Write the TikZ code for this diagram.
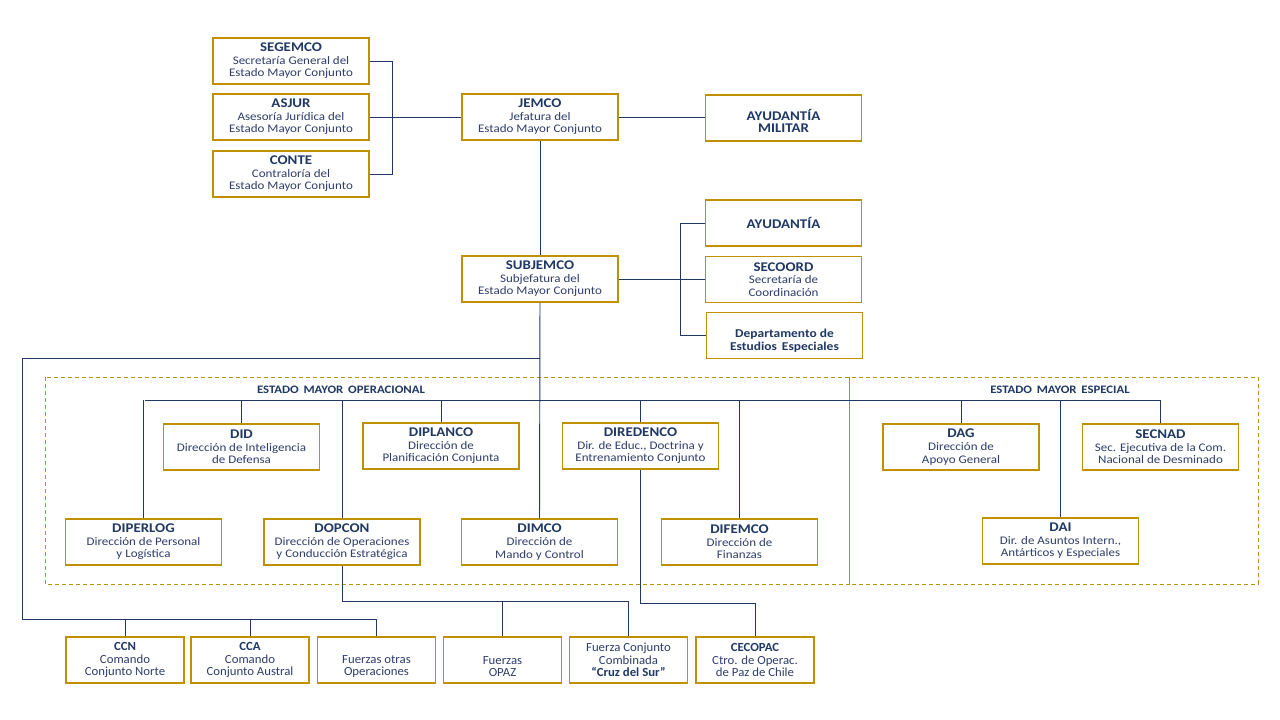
\documentclass[tikz,border=0pt]{standalone}
\usepackage{fontspec}
\setmainfont[FakeStretch=1.12]{Carlito}
\newfontfamily\botf[FakeStretch=1.03]{Carlito}
\usetikzlibrary{calc}
\definecolor{navy}{HTML}{1F3864}
\definecolor{txt}{HTML}{2F3E6B}
\definecolor{gold}{HTML}{BF9000}
\tikzset{
  box/.style={draw=gold, line width=1.1pt, fill=white, inner sep=0pt, align=center,
    text=txt, minimum height=46pt, font=\fontsize{11.6}{12.6}\selectfont},
  w156/.style={minimum width=156pt},
  w119/.style={minimum width=118pt},
  conn/.style={draw=navy, line width=0.95pt},
  grp/.style={draw=gold, line width=0.9pt, dash pattern=on 4pt off 3pt},
  glabel/.style={text=navy, font=\fontsize{11.4}{12}\selectfont\bfseries},
  inlabel/.style={align=center, inner sep=0pt, text=navy},
  bot/.style={box, w119, font=\botf\fontsize{12.4}{12.3}\selectfont}
}
\newcommand{\ttl}[1]{{\fontsize{13.3}{13.5}\selectfont\bfseries\color{navy}#1}}
\begin{document}
\begin{tikzpicture}[x=1pt,y=-1pt]
\useasboundingbox[fill=white] (0,0) rectangle (1280,720);
% group frames
\draw[grp] (45,377) rectangle (849,584);
\draw[grp] (849,377) rectangle (1258,584);
\node[glabel] (emo) at (341,390) {ESTADO\, MAYOR\, OPERACIONAL};
\node[glabel] (eme) at (1060,390) {ESTADO\, MAYOR\, ESPECIAL};
% top
\node[box,w156] (segemco) at (291,61) {\ttl{SEGEMCO}\\Secretaría General del\\Estado Mayor Conjunto};
\node[box,w156] (asjur) at (291,117) {\ttl{ASJUR}\\Asesoría Jurídica del\\Estado Mayor Conjunto};
\node[box,w156] (conte) at (291,174) {\ttl{CONTE}\\Contraloría del\\Estado Mayor Conjunto};
\node[box,w156] (jemco) at (540,117) {\ttl{JEMCO}\\Jefatura del\\Estado Mayor Conjunto};
\node[box,w156] (aymil) at (783.5,118) {};
\node[inlabel] (aymilt) at ([yshift=-3]aymil.center) {\ttl{AYUDANTÍA}\\[-0.5pt]\ttl{MILITAR}};
\node[box,w156] (subjemco) at (540,279) {\ttl{SUBJEMCO}\\Subjefatura del\\Estado Mayor Conjunto};
\node[box,w156] (ayud) at (783.5,223) {\ttl{AYUDANTÍA}};
\node[box,w156] (secoord) at (783.5,279.5) {\ttl{SECOORD}\\Secretaría de\\Coordinación};
\node[box,w156] (dept) at (784.5,335.5) {};
\node[inlabel,font=\fontsize{12}{13}\selectfont\bfseries] (deptt) at ([yshift=-5.5]dept.center) {Departamento de\\Estudios\, Especiales};
% middle
\node[box,w156] (did) at (241.5,447) {\ttl{DID}\\Dirección de Inteligencia\\de Defensa};
\node[box,w156] (diplanco) at (441,446) {\ttl{DIPLANCO}\\Dirección de\\Planificación Conjunta};
\node[box,w156] (diredenco) at (640.5,446) {\ttl{DIREDENCO}\\Dir. de Educ., Doctrina y\\Entrenamiento Conjunto};
\node[box,w156] (diperlog) at (143.5,542) {\ttl{DIPERLOG}\\Dirección de Personal\\y Logística};
\node[box,w156] (dopcon) at (342,542) {\ttl{DOPCON}\\Dirección de Operaciones\\y Conducción Estratégica};
\node[box,w156] (dimco) at (539.5,542) {\ttl{DIMCO}\\Dirección de\\Mando y Control};
\node[box,w156] (difemco) at (739.5,542) {\ttl{DIFEMCO}\\Dirección de\\Finanzas};
\node[box,w156] (dag) at (961,447) {\ttl{DAG}\\Dirección de\\Apoyo General};
\node[box,w156] (secnad) at (1160.5,447) {\ttl{SECNAD}\\Sec. Ejecutiva de la Com.\\Nacional de Desminado};
\node[box,w156] (dai) at (1060.5,541) {\ttl{DAI}\\Dir. de Asuntos Intern.,\\Antárticos y Especiales};
% bottom
\node[bot] (ccn) at (125,660) {{\bfseries\color{navy}CCN}\\Comando\\Conjunto Norte};
\node[bot] (cca) at (250,660) {{\bfseries\color{navy}CCA}\\Comando\\Conjunto Austral};
\node[bot] (fotras) at (376.5,660) {\strut\\Fuerzas otras\\Operaciones};
\node[bot] (opaz) at (502.5,660) {\strut\\Fuerzas\\OPAZ};
\node[bot] (fcc) at (628.5,660) {Fuerza Conjunto\\Combinada\\{\bfseries\color{navy}“Cruz del Sur”}};
\node[bot] (cecopac) at (755,660) {{\bfseries\color{navy}CECOPAC}\\Ctro. de Operac.\\de Paz de Chile};
% coordinates
\coordinate (hl) at (145,400);
\coordinate (hr) at (1161,400);
\coordinate (j1) at (540,358);
\coordinate (b1) at (0,619);
\coordinate (b2) at (0,601);
\coordinate (b3) at (0,603);
% connectors
\draw[conn] (segemco.east) -- ++(23,0) |- (conte.east);
\draw[conn] (asjur.east) -- (jemco.west);
\draw[conn] (jemco.east) -- (jemco.east -| aymil.west);
\draw[conn] (jemco.south) -- (subjemco.north);
\draw[conn] (ayud.west) -- ++(-24,0) |- (dept.west);
\draw[conn] (subjemco.east) -- (subjemco.east -| secoord.west);
\draw[conn] (subjemco.south) -- (dimco.north);
\draw[conn] (j1) -| (22,619) -| (fotras.north);
\draw[conn] (ccn.north) -- (ccn.north |- b1);
\draw[conn] (cca.north) -- (cca.north |- b1);
\draw[conn] (hl) -- (hr);
\foreach \n in {diperlog,did,dopcon,diplanco,diredenco,difemco,dag,dai,secnad}
  \draw[conn] (\n.north) -- (\n.north |- hl);
\draw[conn] (dopcon.south) -- (dopcon.south |- b2) -| (fcc.north);
\draw[conn] (opaz.north) -- (opaz.north |- b2);
\draw[conn] (diredenco.south) -- (diredenco.south |- b3) -| (cecopac.north);
\end{tikzpicture}
\end{document}
